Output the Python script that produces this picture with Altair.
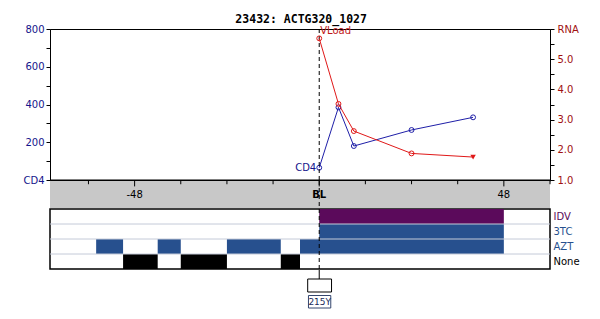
import altair as alt
import pandas as pd

# ---------------- data ----------------
title_text = "23432: ACTG320_1027"

cd4_weeks = [0, 5, 9, 24, 40]
cd4_values = [65, 385, 180, 265, 332]

rna_weeks = [0, 5, 9, 24, 40]
rna_values = [5.69, 3.52, 2.62, 1.88, 1.76]
rna_censored = [False, False, False, False, True]

drug_rows = ["IDV", "3TC", "AZT", "None"]
seg_drug = ["IDV", "3TC", "AZT", "AZT", "AZT", "AZT", "None", "None", "None"]
seg_start = [0, 0, -58, -42, -24, -5, -51, -36, -10]
seg_end = [48, 48, -51, -36, -10, 48, -42, -24, -5]

x_domain = [-70, 60]
x_tick_weeks = [-60, -48, -36, -24, -12, 0, 12, 24, 36, 48, 60]
x_label_weeks = [-48, 0, 48]
x_labels = ["-48", "BL", "48"]

cd4_ticks = list(range(0, 801, 100))
rna_ticks = [1, 1.5, 2, 2.5, 3, 3.5, 4, 4.5, 5, 5.5, 6]

mutation_weeks = [0]
mutation_names = ["215Y"]
baseline_week = [0]

# ---------------- styles ----------------
FONT = "DejaVu Sans"
NAVY = "#14148c"
BLUE_LINE = "#1f1fa8"
RED_LINE = "#e01818"
RED_LABEL = "#a01010"
PURPLE = "#5b0a5b"
BAR_BLUE = "#27508e"
GRAY = "#c8c8c8"

W = 500

xscale = alt.Scale(domain=x_domain, nice=False, zero=False)

cd4_df = pd.DataFrame({"week": cd4_weeks, "cd4": cd4_values})
rna_df = pd.DataFrame({"week": rna_weeks, "rna": rna_values, "censored": rna_censored})
bl_df = pd.DataFrame({"week": baseline_week})

x_main = alt.X("week:Q", scale=xscale,
               axis=alt.Axis(labels=False, ticks=False, grid=False, title=None,
                             domainColor="black", domainWidth=2, values=x_tick_weeks))

y_cd4 = alt.Y("cd4:Q", scale=alt.Scale(domain=[0, 800], nice=False, zero=False),
              axis=alt.Axis(values=cd4_ticks, grid=False, title=None,
                            labelExpr="datum.value == 0 ? 'CD4' : (datum.value % 200 == 0 ? datum.label : '')",
                            labelColor=NAVY, labelFlush=False, labelOverlap=False,
                            tickColor="black", tickSize=4, labelPadding=2,
                            domainColor="black", domainWidth=1))

y_rna = alt.Y("rna:Q", scale=alt.Scale(domain=[1, 6], nice=False, zero=False),
              axis=alt.Axis(orient="right", values=rna_ticks, grid=False, title=None,
                            labelExpr="datum.value == 6 ? 'RNA' : (datum.value % 1 == 0 ? format(datum.value, '.1f') : '')",
                            labelColor=RED_LABEL, labelFlush=False, labelOverlap=False,
                            tickColor="black", tickSize=4, labelPadding=3,
                            domainColor="black", domainWidth=1))

cd4_base = alt.Chart(cd4_df)
cd4_line = cd4_base.mark_line(color=BLUE_LINE, strokeWidth=1).encode(x=x_main, y=y_cd4)
cd4_pts = cd4_base.mark_point(shape="circle", filled=False, size=24, color=BLUE_LINE,
                              strokeWidth=1, opacity=1).encode(x=x_main, y=y_cd4)
cd4_txt = cd4_base.transform_filter(alt.datum.week == 0).mark_text(
    text="CD4", align="right", baseline="middle", dx=-3, font=FONT, fontSize=10, color=NAVY
).encode(x=x_main, y=y_cd4)
rule_main = alt.Chart(bl_df).mark_rule(color="black", strokeDash=[4, 3], strokeWidth=1).encode(x=x_main)

cd4_layer = alt.layer(cd4_line, cd4_pts, cd4_txt, rule_main)

rna_base = alt.Chart(rna_df)
rna_line = rna_base.mark_line(color=RED_LINE, strokeWidth=1).encode(x=x_main, y=y_rna)
rna_pts = rna_base.transform_filter("!datum.censored").mark_point(
    shape="circle", filled=False, size=24, color=RED_LINE, strokeWidth=1, opacity=1
).encode(x=x_main, y=y_rna)
rna_cens = rna_base.transform_filter("datum.censored").mark_point(
    shape="triangle-down", filled=True, size=30, color=RED_LINE, opacity=1
).encode(x=x_main, y=y_rna)
vload_df = pd.DataFrame({"week": [0], "rna": [6], "label": ["VLoad"]})
vload_txt = alt.Chart(vload_df).mark_text(
    align="left", baseline="middle", dx=1, dy=2, font=FONT, fontSize=10, color="#c01818"
).encode(x=x_main, y=y_rna, text="label:N")

rna_layer = alt.layer(rna_line, rna_pts, rna_cens, vload_txt)

chart_a = alt.layer(cd4_layer, rna_layer).resolve_scale(y="independent").properties(
    width=W, height=151
)

# ---------------- gray band with week labels ----------------
x_plain = alt.X("week:Q", scale=xscale, axis=None)
band_y = alt.Scale(domain=[0, 1], nice=False, zero=False)

band_rect = alt.Chart(pd.DataFrame({"a": [x_domain[0]], "b": [x_domain[1]]})).mark_rect(
    color=GRAY
).encode(x=alt.X("a:Q", scale=xscale, axis=None), x2="b:Q",
         y=alt.Y(datum=0, scale=band_y, axis=None), y2=alt.Y2(datum=1))

tick_df = pd.DataFrame({"week": x_tick_weeks})
tick_df["major"] = tick_df["week"].isin(x_label_weeks)
tick_df["top"] = 1.0
tick_df["bot"] = tick_df["major"].map({True: 0.8, False: 0.88})
band_ticks = alt.Chart(tick_df).mark_rule(color="black", strokeWidth=1).encode(
    x=x_plain, y=alt.Y("top:Q", scale=band_y, axis=None), y2="bot:Q"
)

lab_df = pd.DataFrame({"week": x_label_weeks, "label": x_labels})
lab_df["pos"] = 0.5
band_labels = alt.Chart(lab_df).transform_filter("datum.label != 'BL'").mark_text(
    baseline="middle", align="center", font=FONT, fontSize=10, color="black"
).encode(x=x_plain, y=alt.Y("pos:Q", scale=band_y, axis=None), text="label:N")
band_bl = alt.Chart(lab_df).transform_filter("datum.label == 'BL'").mark_text(
    baseline="middle", align="center", font=FONT, fontSize=10, fontWeight="bold", color="black"
).encode(x=x_plain, y=alt.Y("pos:Q", scale=band_y, axis=None), text="label:N")
band_rule = alt.Chart(bl_df).mark_rule(color="black", strokeDash=[4, 3], strokeWidth=1).encode(x=x_plain)

chart_b = alt.layer(band_rect, band_ticks, band_labels, band_bl, band_rule).properties(
    width=W, height=27, view=alt.ViewBackground(stroke="transparent")
)

# ---------------- treatment panel ----------------
seg_df = pd.DataFrame({"drug": seg_drug, "start": seg_start, "end": seg_end})
drug_colors = [PURPLE, BAR_BLUE, BAR_BLUE, "#000000"]

drug_scale = alt.Scale(domain=drug_rows, paddingInner=0, paddingOuter=0)
drug_axis = alt.Axis(orient="right", title=None, ticks=False, domain=False, grid=False,
                     labelPadding=3, labelFont=FONT, labelFontSize=10,
                     labelColor={"expr": "datum.value == 'IDV' ? '%s' : (datum.value == 'None' ? '#000000' : '%s')" % (PURPLE, BAR_BLUE)})

bars = alt.Chart(seg_df).mark_rect().encode(
    x=alt.X("start:Q", scale=xscale, axis=None), x2="end:Q",
    y=alt.Y("drug:N", sort=drug_rows, scale=drug_scale, axis=drug_axis),
    color=alt.Color("drug:N", scale=alt.Scale(domain=drug_rows, range=drug_colors), legend=None)
)
sep_df = pd.DataFrame({"drug": drug_rows[1:]})
seps = alt.Chart(sep_df).mark_rule(color="#c4cad8", strokeWidth=1).encode(
    y=alt.Y("drug:N", sort=drug_rows, bandPosition=0, scale=drug_scale, axis=drug_axis)
)
trt_rule = alt.Chart(bl_df).mark_rule(color="black", strokeDash=[4, 3], strokeWidth=1).encode(x=x_plain)

chart_c = alt.layer(bars, seps, trt_rule).properties(
    width=W, height=60, view=alt.ViewBackground(stroke="black", strokeWidth=1.5)
)

# ---------------- mutation annotation ----------------
mut_y = alt.Scale(domain=[0, 4], nice=False, zero=False, reverse=True)
mut_df = pd.DataFrame({"week": mutation_weeks, "name": mutation_names})
mut_df["r0"] = 0.0
mut_df["r1"] = 0.9
mut_df["b0"] = 0.9
mut_df["b1"] = 2.2
mut_df["l0"] = 2.55
mut_df["l1"] = 3.8
mut_df["t"] = 3.2
mut_df["bx0"] = mut_df["week"] - 3.0
mut_df["bx1"] = mut_df["week"] + 3.2
mut_df["lx0"] = mut_df["week"] - 2.8
mut_df["lx1"] = mut_df["week"] + 3.0

mut_rule = alt.Chart(mut_df).mark_rule(color="black", strokeWidth=1).encode(
    x=x_plain, y=alt.Y("r0:Q", scale=mut_y, axis=None), y2="r1:Q")
mut_box = alt.Chart(mut_df).mark_rect(fill="white", stroke="black", strokeWidth=1).encode(
    x=alt.X("bx0:Q", scale=xscale, axis=None), x2="bx1:Q",
    y=alt.Y("b0:Q", scale=mut_y, axis=None), y2="b1:Q")
mut_lbox = alt.Chart(mut_df).mark_rect(fill="white", stroke="#34466e", strokeWidth=1).encode(
    x=alt.X("lx0:Q", scale=xscale, axis=None), x2="lx1:Q",
    y=alt.Y("l0:Q", scale=mut_y, axis=None), y2="l1:Q")
mut_txt = alt.Chart(mut_df).mark_text(
    font=FONT, fontSize=9, color="#1a2a5a", baseline="middle", align="center", dx=0.5
).encode(x=x_plain, y=alt.Y("t:Q", scale=mut_y, axis=None), text="name:N")

chart_d = alt.layer(mut_rule, mut_box, mut_lbox, mut_txt).properties(
    width=W, height=40, view=alt.ViewBackground(stroke="transparent")
)

chart = alt.vconcat(
    chart_a, chart_b, chart_c, chart_d, spacing=1, bounds="flush",
    title=alt.Title(title_text, font="DejaVu Sans Mono", fontSize=11.5, fontWeight="bold",
                    anchor="middle", offset=-2, color="black"),
).properties(
    padding={"left": 22, "top": 14, "right": 5, "bottom": 5},
    background="white"
).configure_view(
    stroke="black", strokeWidth=1
).configure_axis(
    labelFont=FONT, labelFontSize=10
)

chart.save("out.html", embed_options={"renderer": "svg", "actions": False})
